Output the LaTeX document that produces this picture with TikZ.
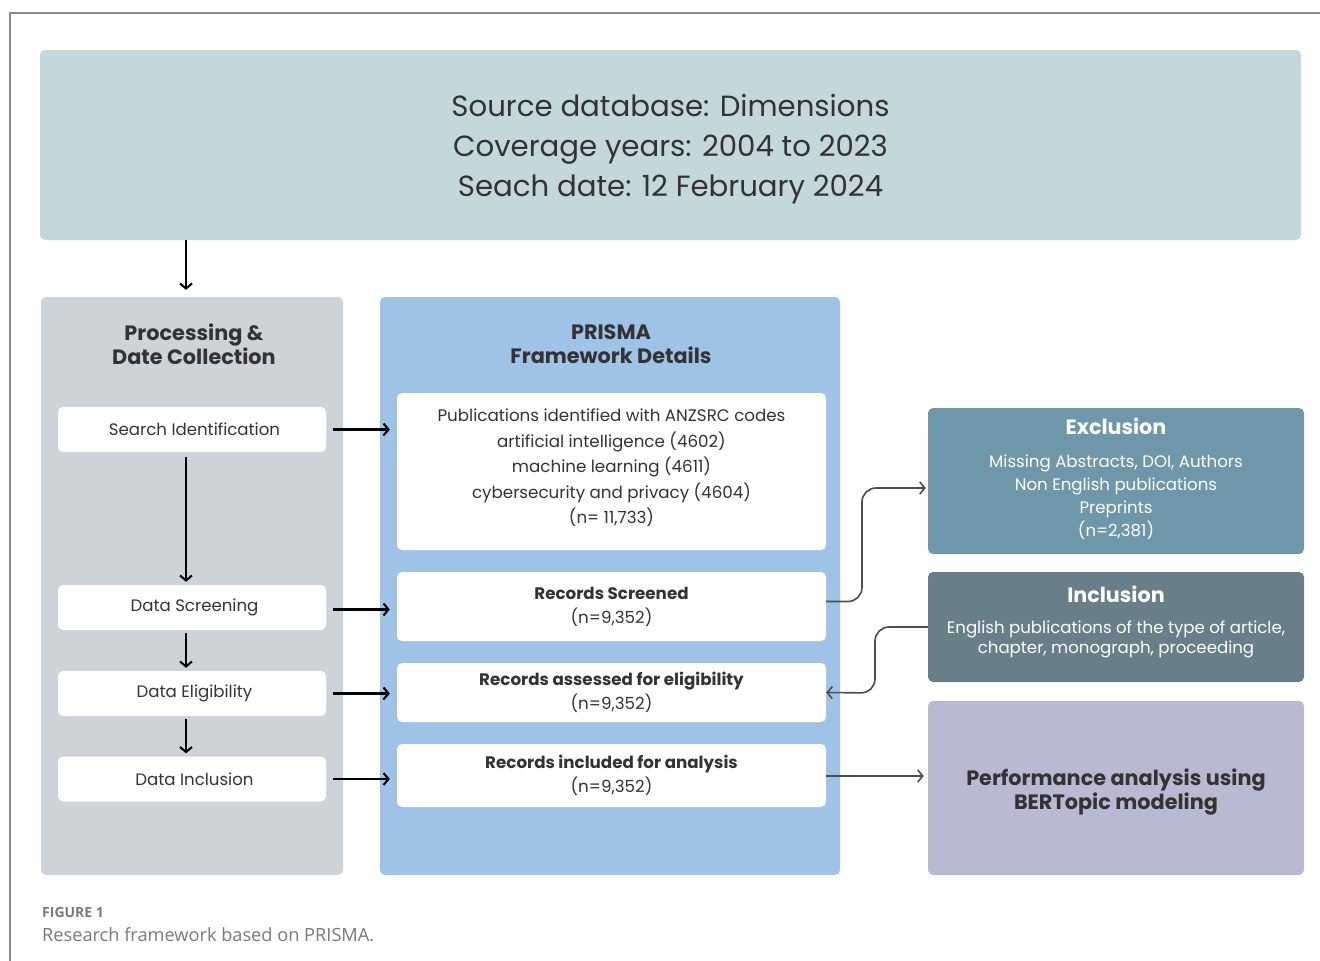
\documentclass[tikz,border=0pt]{standalone}
\usepackage{fontspec}
\setmainfont{Poppins}
\newfontfamily\capfont{Open Sans}
\usetikzlibrary{arrows.meta,calc}
\definecolor{srcbg}{HTML}{C4D7DD}
\definecolor{procbg}{HTML}{CDD3D7}
\definecolor{prismabg}{HTML}{9FC3E7}
\definecolor{exclbg}{HTML}{6E97A9}
\definecolor{inclbg}{HTML}{687F8A}
\definecolor{perfbg}{HTML}{B9B9D2}
\definecolor{txt}{HTML}{333333}
\definecolor{conn}{HTML}{4D4D4D}
\definecolor{framec}{HTML}{8A8A8A}
\definecolor{capc}{HTML}{7A7A7A}
\tikzset{
  panel/.style={rounded corners=5pt, inner sep=0pt, draw=none},
  whitebox/.style={panel, fill=white, text=txt, align=center},
  leftbox/.style={whitebox, minimum width=268pt, minimum height=45pt, font=\fontsize{16.6}{20}\selectfont},
  arr/.style={draw=black, line width=2.2pt, -{Straight Barb[length=5pt,width=12pt,line width=2pt]}},
  garr/.style={draw=conn, line width=1.6pt, rounded corners=14pt, -{Straight Barb[length=5pt,width=12pt,line width=1.6pt]}}
}
\begin{document}
\begin{tikzpicture}[x=1pt,y=-1pt]
\useasboundingbox (0,0) rectangle (1320,961);
\fill[white] (0,0) rectangle (1320,961);
\draw[framec, line width=1.5pt] (10,961) -- (10,13) -- (1320,13);

% top source box
\node[panel, fill=srcbg, minimum width=1261pt, minimum height=190pt] (src) at (670.5,145) {};
\node[text=txt, align=center, font=\fontsize{29.2}{40}\selectfont] (srct) at (670.5,149)
  {Source database: Dimensions\\Coverage years: 2004 to 2023\\Seach date: 12 February 2024};

% left panel
\node[panel, fill=procbg, minimum width=302pt, minimum height=578pt] (proc) at (192,586) {};
\node[text=txt, align=center, font=\fontsize{20.8}{24}\selectfont\bfseries] (proct) at (194,344)
  {Processing \&\\Date Collection};

\node[leftbox] (si) at (192,429.5) {\hspace*{5pt}Search Identification};
\node[leftbox] (ds) at (192,607.5) {\hspace*{5pt}Data Screening};
\node[leftbox] (de) at (192,693.5) {\hspace*{5pt}Data Eligibility};
\node[leftbox] (di) at (192,779) {\hspace*{5pt}Data Inclusion};

% prisma panel
\node[panel, fill=prismabg, minimum width=460pt, minimum height=578pt] (prisma) at (610,586) {};
\node[text=txt, align=center, font=\fontsize{20.8}{24}\selectfont\bfseries] (prismat) at (611,344)
  {PRISMA\\Framework Details};

\node[whitebox, minimum width=429pt, minimum height=157pt] (pub) at (611.5,471.5) {};
\node[text=txt, align=center, font=\fontsize{16.7}{25.5}\selectfont] (pubt) at (611.5,468)
  {Publications identified with ANZSRC codes\\artificial intelligence (4602)\\machine learning (4611)\\cybersecurity and privacy (4604)\\(n= 11,733)};
\node[whitebox, minimum width=429pt, minimum height=69pt, font=\fontsize{16.7}{24}\selectfont] (rs) at (611.5,606.5)
  {\textbf{Records Screened}\\(n=9,352)};
\node[whitebox, minimum width=429pt, minimum height=59pt, font=\fontsize{16.7}{24}\selectfont] (ra) at (611.5,692.5)
  {\textbf{Records assessed for eligibility}\\(n=9,352)};
\node[whitebox, minimum width=429pt, minimum height=63pt, font=\fontsize{16.7}{24}\selectfont] (ri) at (611.5,775.5)
  {\textbf{Records included for analysis}\\(n=9,352)};

% right boxes
\node[panel, fill=exclbg, minimum width=376pt, minimum height=146pt] (excl) at (1116,481) {};
\node[text=white, align=center, font=\fontsize{16.6}{23}\selectfont] (exclt) at (1116,479)
  {{\bfseries\fontsize{20.7}{23}\selectfont Exclusion}\\[10pt]Missing Abstracts, DOI, Authors\\Non English publications\\Preprints\\(n=2,381)};

\node[panel, fill=inclbg, minimum width=376pt, minimum height=110pt] (incl) at (1116,627) {};
\node[text=white, align=center, font=\fontsize{16.6}{20}\selectfont] (inclt) at (1116,622)
  {{\bfseries\fontsize{20.7}{23}\selectfont Inclusion}\\[11pt]English publications of the type of article,\\chapter, monograph, proceeding};

\node[panel, fill=perfbg, minimum width=376pt, minimum height=174pt] (perf) at (1116,788) {};
\node[text=txt, align=center, font=\fontsize{20.8}{24}\selectfont\bfseries] (perft) at (1116,792)
  {Performance analysis using\\BERTopic modeling};

% black arrows
\draw[arr, shorten >=7pt] ([xshift=-6pt]src.south -| si.north) -- ([xshift=-6pt]si.north |- proc.north);
\draw[arr, shorten <=5pt, shorten >=3pt] ([xshift=-6pt]si.south) -- ([xshift=-6pt]ds.north);
\draw[arr, shorten <=3pt, shorten >=3pt] ([xshift=-6pt]ds.south) -- ([xshift=-6pt]de.north);
\draw[arr, shorten <=3pt, shorten >=3pt] ([xshift=-6pt]de.south) -- ([xshift=-6pt]di.north);

\draw[arr, shorten <=7pt, shorten >=7pt] (si.east) -- (si.east -| pub.west);
\draw[arr, shorten <=7pt, shorten >=7pt] ([yshift=-2pt]ds.east) -- ([yshift=-2pt]ds.east -| rs.west);
\draw[arr, shorten <=7pt, shorten >=7pt] (de.east) -- (de.east -| ra.west);
\draw[arr, shorten <=7pt, shorten >=7pt] (di.east) -- (di.east -| ri.west);

% gray connectors
\draw[garr, shorten >=2pt] ([yshift=5pt]rs.east) -- ([yshift=5pt]rs.east -| 862,0) -- (862,488) -- ([yshift=-7pt]excl.west);
\draw[garr] (incl.west) -- (875,627) -- (875,693) -- (ra.east);
\draw[garr, shorten >=4pt] ([yshift=12pt]perf.west -| ri.east) -- ([yshift=12pt]perf.west);

% caption
\node[anchor=base west, inner sep=0pt, text=capc, font=\capfont\bfseries\fontsize{14}{16}\selectfont] (figl) at (42,917) {FIGURE 1};
\node[anchor=base west, inner sep=0pt, text=capc, font=\capfont\fontsize{18.2}{20}\selectfont] (figc) at (42,941) {Research framework based on PRISMA.};
\end{tikzpicture}
\end{document}
